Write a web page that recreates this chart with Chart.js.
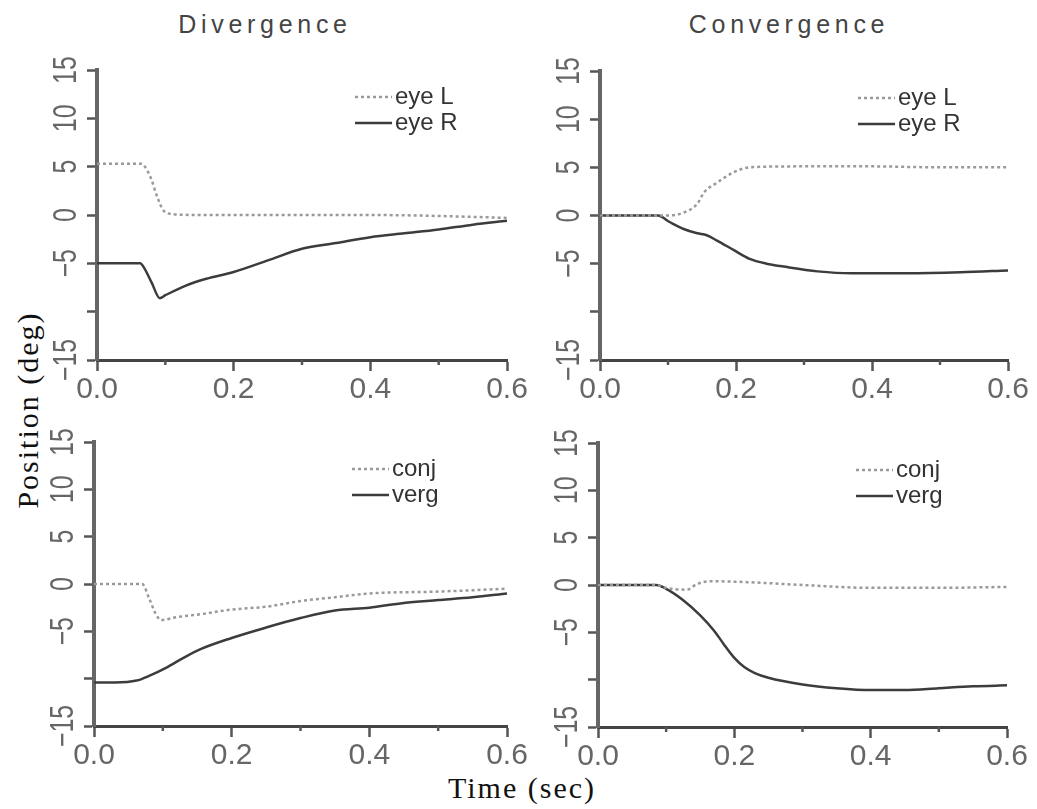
<!DOCTYPE html>
<html>
<head>
<meta charset="utf-8">
<script src="https://cdn.jsdelivr.net/npm/chart.js@4.4.1/dist/chart.umd.min.js"></script>
<style>
  body { margin: 0; background: #fff; width: 1037px; height: 809px; position: relative; overflow: hidden; }
  canvas { position: absolute; }
  .title { position: absolute; top: 12px; font: 25px "Liberation Sans", Arial, sans-serif; line-height: 1; letter-spacing: 4.7px; color: #444; white-space: nowrap; transform: translateX(-50%); }
  .axlab { position: absolute; font: 30px "Liberation Serif", serif; line-height: 1; letter-spacing: 2px; color: #111; white-space: nowrap; }
</style>
</head>
<body>
<div class="title" style="left:265px">Divergence</div>
<div class="title" style="left:789px">Convergence</div>
<div class="axlab" style="left:28px;top:410px;transform:translate(-50%,-50%) rotate(-90deg)">Position (deg)</div>
<div class="axlab" style="left:522px;top:773px;transform:translateX(-50%)">Time (sec)</div>

<canvas id="divEye"></canvas>
<canvas id="convEye"></canvas>
<canvas id="divCV"></canvas>
<canvas id="convCV"></canvas>

<script>
// axis ticks
const xTicks = [0, 0.1, 0.2, 0.3, 0.4, 0.5, 0.6];
const xTickLabels = ['0.0', '', '0.2', '', '0.4', '', '0.6'];
const yTicks = [-15, -10, -5, 0, 5, 10, 15];
const yTickLabels = ['\u221215', '', '\u22125', '0', '5', '10', '15'];

// Divergence: eye L / eye R
const divEyeLTime = [0, 0.065, 0.075, 0.08, 0.088, 0.097, 0.11, 0.15, 0.2, 0.3, 0.4, 0.5, 0.6];
const divEyeL     = [5.3, 5.3, 4.4, 3.6, 1.9, 0.5, 0.1, 0, 0, 0, 0, -0.1, -0.3];
const divEyeRTime = [0, 0.063, 0.07, 0.08, 0.092, 0.1, 0.13, 0.16, 0.2, 0.25, 0.3, 0.35, 0.4, 0.45, 0.5, 0.55, 0.6];
const divEyeR     = [-5, -5, -5.6, -7.0, -8.6, -8.3, -7.3, -6.6, -5.9, -4.7, -3.5, -2.9, -2.3, -1.9, -1.5, -1.0, -0.6];

// Convergence: eye L / eye R
const convEyeLTime = [0, 0.1, 0.123, 0.143, 0.153, 0.172, 0.197, 0.22, 0.3, 0.4, 0.5, 0.6];
const convEyeL     = [0, 0, 0.3, 1.2, 2.4, 3.4, 4.5, 5.0, 5.1, 5.1, 5.0, 5.0];
const convEyeRTime = [0, 0.085, 0.103, 0.123, 0.143, 0.157, 0.172, 0.197, 0.22, 0.245, 0.27, 0.32, 0.37, 0.45, 0.53, 0.6];
const convEyeR     = [0, 0, -0.7, -1.4, -1.85, -2.05, -2.6, -3.6, -4.5, -5.0, -5.3, -5.8, -6.0, -6.0, -5.9, -5.7];

// Divergence: conj / verg
const divConjTime = [0, 0.07, 0.08, 0.09, 0.097, 0.12, 0.154, 0.2, 0.25, 0.3, 0.35, 0.4, 0.5, 0.6];
const divConj     = [0, 0, -1.5, -3.2, -3.8, -3.5, -3.2, -2.7, -2.4, -1.8, -1.4, -1.0, -0.8, -0.5];
const divVergTime = [0, 0.03, 0.062, 0.08, 0.106, 0.13, 0.154, 0.2, 0.25, 0.3, 0.35, 0.4, 0.45, 0.5, 0.55, 0.6];
const divVerg     = [-10.4, -10.4, -10.2, -9.7, -8.8, -7.8, -6.9, -5.7, -4.6, -3.6, -2.8, -2.5, -2.0, -1.7, -1.4, -1.0];

// Convergence: conj / verg
const convConjTime = [0, 0.085, 0.1, 0.13, 0.145, 0.165, 0.22, 0.3, 0.4, 0.5, 0.6];
const convConj     = [0, 0, -0.3, -0.5, 0.1, 0.4, 0.3, 0.0, -0.3, -0.3, -0.2];
const convVergTime = [0, 0.085, 0.1, 0.125, 0.15, 0.17, 0.185, 0.2, 0.215, 0.23, 0.25, 0.3, 0.35, 0.4, 0.45, 0.5, 0.55, 0.6];
const convVerg     = [0, 0, -0.4, -1.6, -3.2, -4.8, -6.3, -7.7, -8.7, -9.3, -9.8, -10.5, -10.9, -11.1, -11.1, -10.9, -10.7, -10.6];

function pts(t, v) { return t.map((x, i) => ({ x: x, y: v[i] })); }

// rotated y tick labels, short minor x ticks, and the little legend
const panelDecor = {
  id: 'panelDecor',
  afterDraw(chart) {
    const ctx = chart.ctx;
    const area = chart.chartArea;
    const ys = chart.scales.y, xs = chart.scales.x;
    ctx.save();
    // y labels
    ctx.fillStyle = '#666';
    ctx.font = '25px "Liberation Sans", Arial, sans-serif';
    ctx.textAlign = 'center';
    ctx.textBaseline = 'middle';
    yTicks.forEach((v, i) => {
      if (!yTickLabels[i]) return;
      ctx.save();
      ctx.translate(area.left - 30, ys.getPixelForValue(v));
      ctx.rotate(-Math.PI / 2);
      ctx.scale(1, 1.3);
      ctx.fillText(yTickLabels[i], 0, 0);
      ctx.restore();
    });
    // minor x ticks
    ctx.strokeStyle = '#555';
    ctx.lineWidth = 2.5;
    xTicks.forEach((v, i) => {
      if (xTickLabels[i]) return;
      const px = xs.getPixelForValue(v);
      ctx.beginPath();
      ctx.moveTo(px, area.bottom);
      ctx.lineTo(px, area.bottom + 5);
      ctx.stroke();
    });
    // legend
    ctx.font = '24px "Liberation Sans", Arial, sans-serif';
    ctx.textAlign = 'left';
    chart.data.datasets.forEach((ds, i) => {
      const y = area.top + 27 + i * 26;
      const x0 = area.left + 258;
      ctx.strokeStyle = ds.borderColor;
      ctx.lineWidth = ds.borderWidth;
      ctx.setLineDash(ds.borderDash || []);
      ctx.beginPath();
      ctx.moveTo(x0, y);
      ctx.lineTo(x0 + 37, y);
      ctx.stroke();
      ctx.setLineDash([]);
      ctx.fillStyle = '#333';
      ctx.fillText(ds.label, x0 + 40, y);
    });
    ctx.restore();
  }
};

function makePanel(id, box, series) {
  const cv = document.getElementById(id);
  const w = box.R - box.L + 90, h = box.B - box.T + 90;
  cv.width = w; cv.height = h;
  cv.style.left = (box.L - 60) + 'px';
  cv.style.top = (box.T - 40) + 'px';
  return new Chart(cv.getContext('2d'), {
    type: 'line',
    data: {
      datasets: series.map(s => ({
        label: s.label,
        data: s.data,
        borderColor: s.dotted ? '#9a9a9a' : '#3c3c3c',
        borderWidth: 2.5,
        borderDash: s.dotted ? [3, 3] : [],
        pointRadius: 0,
        cubicInterpolationMode: 'monotone',
        fill: false
      }))
    },
    options: {
      responsive: false,
      animation: false,
      devicePixelRatio: 1,
      layout: { padding: { left: 0, top: 40, right: 30, bottom: 0 } },
      plugins: { legend: { display: false }, tooltip: { enabled: false } },
      scales: {
        x: {
          type: 'linear', min: 0, max: 0.6,
          afterBuildTicks: s => { s.ticks = xTicks.map(v => ({ value: v })); },
          afterFit: s => { s.height = 50; },
          grid: {
            drawOnChartArea: false, tickLength: 11, tickWidth: 2.5,
            tickColor: c => xTickLabels[c.index] ? '#555' : 'rgba(0,0,0,0)'
          },
          border: { color: '#444', width: 3 },
          ticks: {
            autoSkip: false, maxRotation: 0, padding: 1, color: '#666',
            font: { family: '"Liberation Sans", Arial, sans-serif', size: 30 },
            callback: (v, i) => xTickLabels[i]
          }
        },
        y: {
          min: -15, max: 15,
          afterBuildTicks: s => { s.ticks = yTicks.map(v => ({ value: v })); },
          afterFit: s => { s.width = 60; },
          grid: { drawOnChartArea: false, tickLength: 10, tickWidth: 2.5, tickColor: '#555' },
          border: { color: '#666', width: 4 },
          ticks: { display: false }
        }
      }
    },
    plugins: [panelDecor]
  });
}

makePanel('divEye', { L: 97, R: 507, T: 70, B: 360 }, [
  { label: 'eye L', data: pts(divEyeLTime, divEyeL), dotted: true },
  { label: 'eye R', data: pts(divEyeRTime, divEyeR), dotted: false }
]);
makePanel('convEye', { L: 600, R: 1008, T: 71, B: 360 }, [
  { label: 'eye L', data: pts(convEyeLTime, convEyeL), dotted: true },
  { label: 'eye R', data: pts(convEyeRTime, convEyeR), dotted: false }
]);
makePanel('divCV', { L: 94, R: 507, T: 442, B: 726 }, [
  { label: 'conj', data: pts(divConjTime, divConj), dotted: true },
  { label: 'verg', data: pts(divVergTime, divVerg), dotted: false }
]);
makePanel('convCV', { L: 598, R: 1007, T: 443, B: 727 }, [
  { label: 'conj', data: pts(convConjTime, convConj), dotted: true },
  { label: 'verg', data: pts(convVergTime, convVerg), dotted: false }
]);
</script>
</body>
</html>
